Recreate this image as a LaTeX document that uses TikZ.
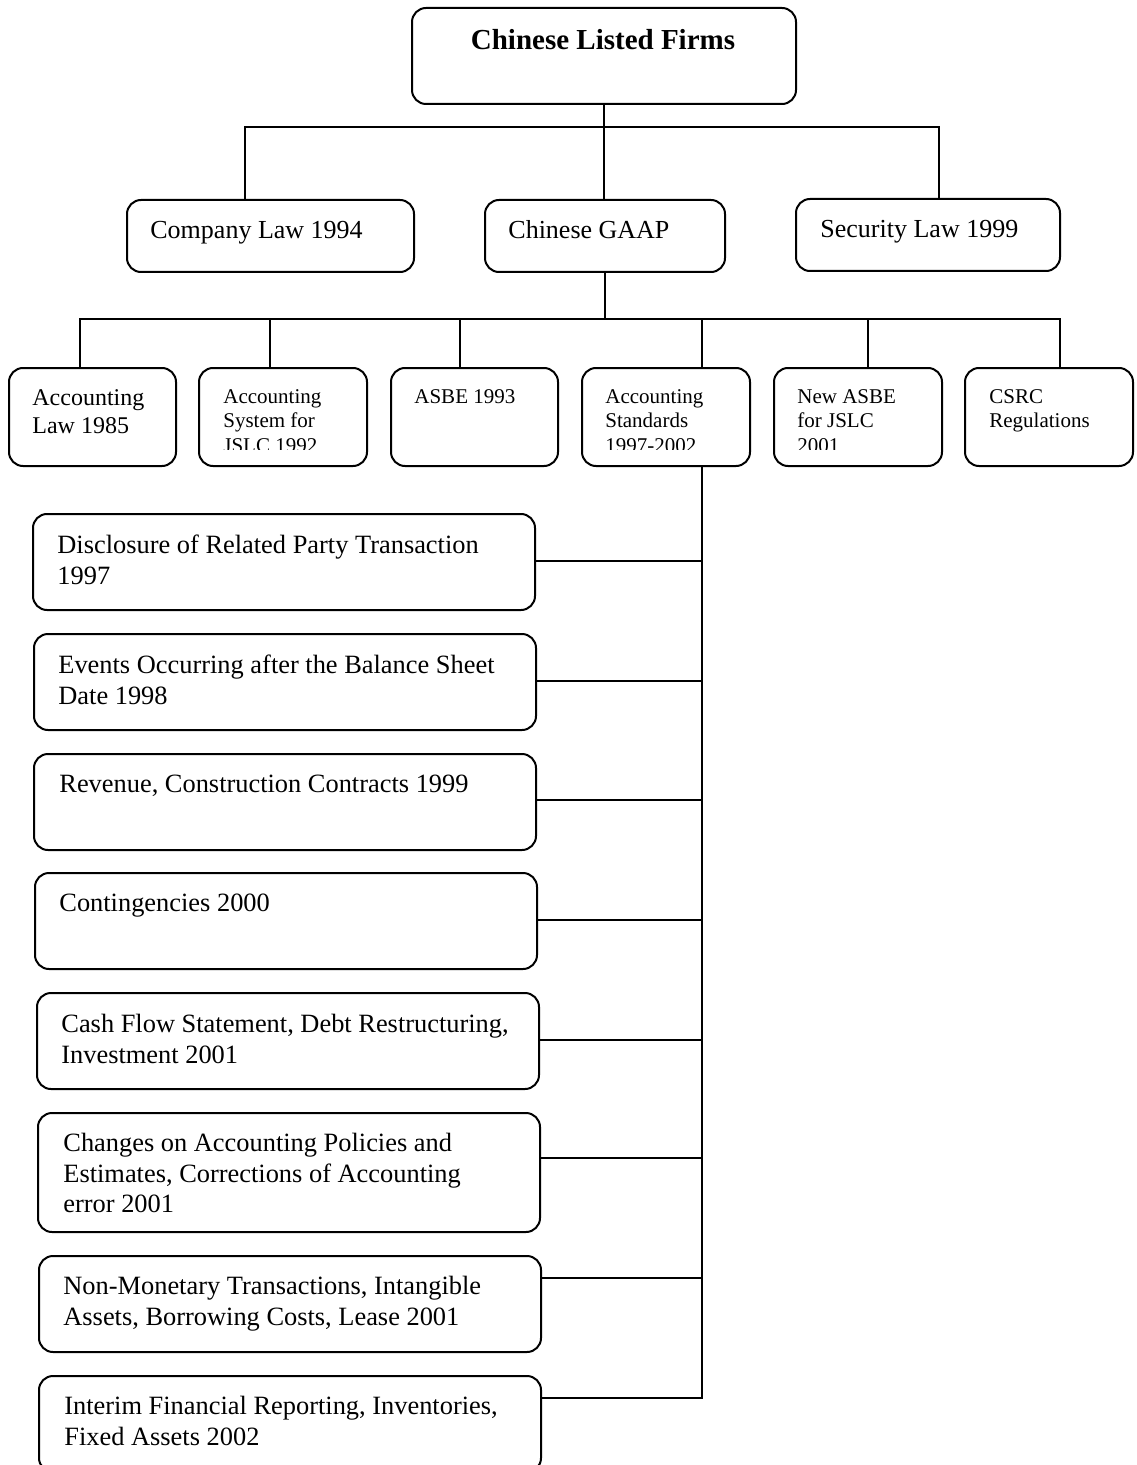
\documentclass[tikz,border=0pt]{standalone}
\usepackage{fontspec}
\setmainfont{Liberation Serif}
\usetikzlibrary{calc}
\begin{document}
\begin{tikzpicture}[x=0.5pt,y=-0.5pt,
  box/.style={draw, line width=1pt, rounded corners=7pt, inner sep=0pt, anchor=north west},
  conn/.style={draw, line width=1pt},
  bigtxt/.style={anchor=north west, inner sep=0pt, align=left, font=\fontsize{13.2}{15.2}\selectfont},
  midtxt/.style={anchor=base west, inner sep=0pt, font=\fontsize{13}{15}\selectfont},
  smalltxt/.style={anchor=north west, inner sep=0pt, align=left, font=\fontsize{10.5}{12.3}\selectfont}]
\useasboundingbox (0,0) rectangle (1136,1465);
% top levels
\node[box, minimum width=192pt, minimum height=48pt] (top) at (411,7) {};
\node[anchor=base, inner sep=0pt, font=\fontsize{14.5}{17}\selectfont\bfseries] (toptxt) at (603,50) {Chinese Listed Firms};
\node[box, minimum width=143.5pt, minimum height=36pt] (comp) at (126,199) {};
\node[midtxt] (comptxt) at (150,239) {Company Law 1994};
\node[box, minimum width=120pt, minimum height=36pt] (gaap) at (484,199) {};
\node[midtxt] (gaaptxt) at (508,239) {Chinese GAAP};
\node[box, minimum width=132pt, minimum height=36pt] (sec) at (795,198) {};
\node[midtxt] (sectxt) at (820,238) {Security Law 1999};
% small boxes
\node[box, minimum width=83.5pt, minimum height=49pt] (s1) at (8,367) {};
\node[box, minimum width=84pt, minimum height=49pt] (s2) at (198,367) {};
\node[box, minimum width=83.5pt, minimum height=49pt] (s3) at (390,367) {};
\node[box, minimum width=84pt, minimum height=49pt] (s4) at (581,367) {};
\node[box, minimum width=84pt, minimum height=49pt] (s5) at (773,367) {};
\node[box, minimum width=84pt, minimum height=49pt] (s6) at (964,367) {};
\begin{scope}
\clip (0,367) rectangle (1136,449);
\node[anchor=north west, inner sep=0pt, align=left, font=\fontsize{12}{14}\selectfont] (s1t) at (32,389) {Accounting\\Law 1985};
\node[smalltxt] (s2t) at (223,389) {Accounting\\System for\\JSLC 1992};
\node[smalltxt] (s3t) at (414,389) {ASBE 1993};
\node[smalltxt] (s4t) at (605,389) {Accounting\\Standards\\1997-2002};
\node[smalltxt] (s5t) at (797,389) {New ASBE\\for JSLC\\2001};
\node[smalltxt] (s6t) at (989,389) {CSRC\\Regulations};
\end{scope}
% big boxes
\node[box, minimum width=251pt, minimum height=48pt] (b1) at (32,513) {};
\node[box, minimum width=251pt, minimum height=48pt] (b2) at (33,633) {};
\node[box, minimum width=251pt, minimum height=48pt] (b3) at (33,753) {};
\node[box, minimum width=251pt, minimum height=48pt] (b4) at (34,872) {};
\node[box, minimum width=251pt, minimum height=48pt] (b5) at (36,992) {};
\node[box, minimum width=251pt, minimum height=59.5pt] (b6) at (37,1112) {};
\node[box, minimum width=251pt, minimum height=48pt] (b7) at (38,1255) {};
\node[box, minimum width=251pt, minimum height=48pt] (b8) at (38,1375) {};
\node[bigtxt] (b1t) at ($(b1.north west)+(25,22)$) {Disclosure of Related Party Transaction\\1997};
\node[bigtxt] (b2t) at ($(b2.north west)+(25,22)$) {Events Occurring after the Balance Sheet\\Date 1998};
\node[bigtxt] (b3t) at ($(b3.north west)+(26,22)$) {Revenue, Construction Contracts 1999};
\node[bigtxt] (b4t) at ($(b4.north west)+(25,22)$) {Contingencies 2000};
\node[bigtxt] (b5t) at ($(b5.north west)+(25,22)$) {Cash Flow Statement, Debt Restructuring,\\Investment 2001};
\node[bigtxt] (b6t) at ($(b6.north west)+(26,21)$) {Changes on Accounting Policies and\\Estimates, Corrections of Accounting\\error 2001};
\node[bigtxt] (b7t) at ($(b7.north west)+(25,21)$) {Non-Monetary Transactions, Intangible\\Assets, Borrowing Costs, Lease 2001};
\node[bigtxt] (b8t) at ($(b8.north west)+(26,21)$) {Interim Financial Reporting, Inventories,\\Fixed Assets 2002};
% connectors level 1
\coordinate (h1l) at (245,127);
\coordinate (h1r) at (939,127);
\draw[conn] (top.south) -- (top.south |- gaap.north);
\draw[conn] (h1l |- comp.north) -- (h1l) -- (h1r) -- (h1r |- sec.north);
% connectors level 2
\coordinate (h2l) at (80,319);
\coordinate (h2r) at (1060,319);
\coordinate (d2) at (270,319);
\coordinate (d3) at (460,319);
\coordinate (d4) at (702,319);
\coordinate (d5) at (868,319);
\draw[conn] (gaap.south) -- (gaap.south |- h2l);
\draw[conn] (h2l |- s1.north) -- (h2l) -- (h2r) -- (h2r |- s6.north);
\draw[conn] (d2) -- (d2 |- s2.north);
\draw[conn] (d3) -- (d3 |- s3.north);
\draw[conn] (d4) -- (d4 |- s4.north);
\draw[conn] (d5) -- (d5 |- s5.north);
% trunk
\coordinate (tb) at (702,1398);
\draw[conn] (d4 |- s4.south) -- (tb) -- (tb -| b8.east);
\coordinate (c1) at (702,561);
\coordinate (c2) at (702,681);
\coordinate (c3) at (702,800);
\coordinate (c4) at (702,920);
\coordinate (c5) at (702,1040);
\coordinate (c6) at (702,1158);
\coordinate (c7) at (702,1278);
\draw[conn] (c1 -| b1.east) -- (c1);
\draw[conn] (c2 -| b2.east) -- (c2);
\draw[conn] (c3 -| b3.east) -- (c3);
\draw[conn] (c4 -| b4.east) -- (c4);
\draw[conn] (c5 -| b5.east) -- (c5);
\draw[conn] (c6 -| b6.east) -- (c6);
\draw[conn] (c7 -| b7.east) -- (c7);
\end{tikzpicture}
\end{document}
